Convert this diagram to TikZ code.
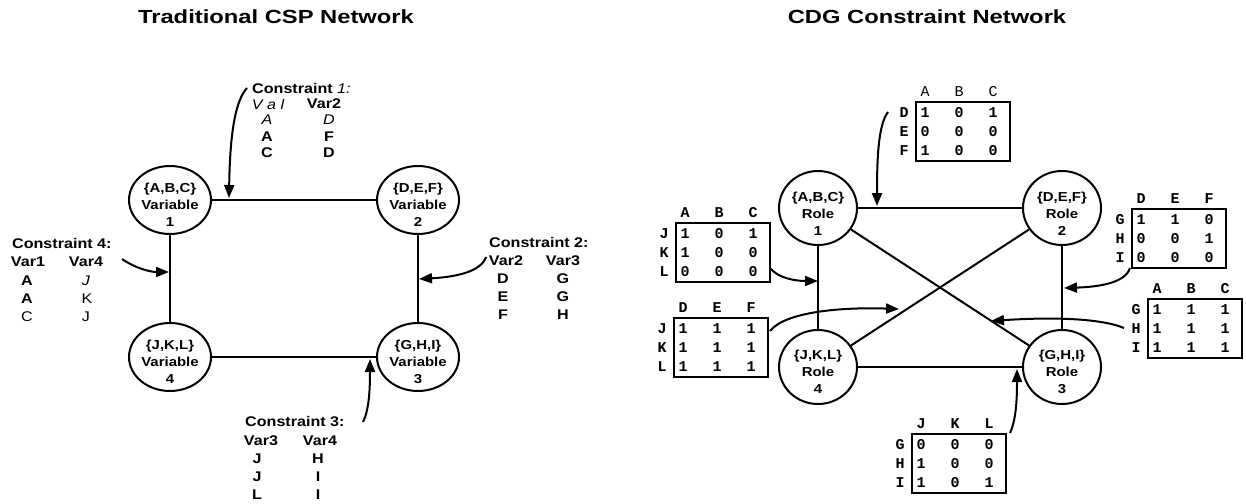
\documentclass[tikz,border=0pt]{standalone}
\usepackage{fontspec}
\setmainfont{Liberation Sans}
\setmonofont{Liberation Mono}
\usepackage{graphicx}
\usetikzlibrary{shapes.geometric,arrows.meta}
\newcommand{\sx}[1]{\scalebox{1.15}[1]{#1}}
\newcommand{\cdgtab}[7]{%
  \node[tbox] (#1) at ({#2+47},{#3+29.5}) {};
  \foreach \hh [count=\i] in {#5} {\node[#4] (#1h\i) at ({#2+9+34*(\i-1)},{#3-10}) {\hh};}
  \foreach \rr [count=\j] in {#6} {\node[tnum] (#1r\j) at ({#2-12},{#3+11+19*(\j-1)}) {\rr};}
  \foreach \p/\q/\w [count=\j] in {#7} {
    \node[tnum] (#1v\j-1) at ({#2+9},{#3+11+19*(\j-1)}) {\p};
    \node[tnum] (#1v\j-2) at ({#2+43},{#3+11+19*(\j-1)}) {\q};
    \node[tnum] (#1v\j-3) at ({#2+77},{#3+11+19*(\j-1)}) {\w};
  }%
}
\begin{document}
\begin{tikzpicture}[x=1pt,y=-1pt,
  ln/.style={line width=2pt},
  arr/.style={line width=2pt,-{Triangle[length=13pt,width=10pt]}},
  vcirc/.style={ellipse,draw,line width=2pt,minimum width=82pt,minimum height=68pt,inner sep=0pt},
  rcirc/.style={ellipse,draw,line width=2pt,minimum width=78pt,minimum height=74pt,inner sep=0pt},
  ctext/.style={inner sep=0pt,align=center,font=\fontsize{13}{17}\selectfont\bfseries},
  lab/.style={inner sep=0pt,font=\fontsize{14}{16}\selectfont\bfseries},
  labm/.style={inner sep=0pt,font=\fontsize{14}{16}\selectfont},
  labi/.style={inner sep=0pt,font=\fontsize{14}{16}\selectfont\itshape},
  ttl/.style={inner sep=0pt,font=\fontsize{19}{22}\selectfont\bfseries},
  tbox/.style={draw,line width=1.6pt,minimum width=94pt,minimum height=59pt,inner sep=0pt},
  tnum/.style={inner sep=0pt,font=\fontsize{15}{17}\selectfont\ttfamily\bfseries},
  tnumr/.style={inner sep=0pt,font=\fontsize{15}{17}\selectfont\ttfamily},
]
\useasboundingbox (0,0) rectangle (1246,503);

% titles
\node[ttl] (t1) at (276,17) {\scalebox{1.25}[1]{Traditional CSP Network}};
\node[ttl] (t2) at (927,17) {\scalebox{1.25}[1]{CDG Constraint Network}};

% ---------- left: traditional CSP ----------
\node[vcirc] (v1) at (170,200) {};
\node[vcirc] (v2) at (418,200) {};
\node[vcirc] (v3) at (418,357) {};
\node[vcirc] (v4) at (170,357) {};
\node[ctext] (v1t) at (170,205) {\sx{\{A,B,C\}}\\\sx{Variable}\\\sx{1}};
\node[ctext] (v2t) at (418,205) {\sx{\{D,E,F\}}\\\sx{Variable}\\\sx{2}};
\node[ctext] (v3t) at (418,362) {\sx{\{G,H,I\}}\\\sx{Variable}\\\sx{3}};
\node[ctext] (v4t) at (170,362) {\sx{\{J,K,L\}}\\\sx{Variable}\\\sx{4}};
\draw[ln] (v1) -- (v2);
\draw[ln] (v2) -- (v3);
\draw[ln] (v1) -- (v4);
\draw[ln] (v4) -- (v3);

% constraint 1
\node[lab,anchor=west] (k1) at (252,88) {\sx{Constraint \textit{\mdseries 1:}}};
\node[labi] (k1h1) at (268,104) {\sx{V a l}};
\node[lab] (k1h2) at (324,104) {\sx{Var2}};
\node[labi] (k1a1) at (267,120) {\sx{A}};
\node[labi] (k1b1) at (329,120) {\sx{D}};
\node[lab] (k1a2) at (267,137) {\sx{A}};
\node[lab] (k1b2) at (329,137) {\sx{F}};
\node[lab] (k1a3) at (267,153) {\sx{C}};
\node[lab] (k1b3) at (329,153) {\sx{D}};
\coordinate (c1s) at (247,88);
\coordinate (c1e) at (229,198);
\draw[arr] (c1s) .. controls (236,100) and (230,130) .. (c1e);

% constraint 2
\node[lab,anchor=west] (k2) at (489,242) {\sx{Constraint 2:}};
\node[lab] (k2h1) at (506,261) {\sx{Var2}};
\node[lab] (k2h2) at (563,261) {\sx{Var3}};
\node[lab] (k2a1) at (503,279) {\sx{D}};
\node[lab] (k2b1) at (563,279) {\sx{G}};
\node[lab] (k2a2) at (503,297) {\sx{E}};
\node[lab] (k2b2) at (563,297) {\sx{G}};
\node[lab] (k2a3) at (503,315) {\sx{F}};
\node[lab] (k2b3) at (563,315) {\sx{H}};
\coordinate (c2s) at (486,257);
\coordinate (c2e) at (419,279);
\draw[arr] (c2s) .. controls (481,272) and (455,277) .. (c2e);

% constraint 4
\node[lab,anchor=west] (k4) at (12,243) {\sx{Constraint 4:}};
\node[lab] (k4h1) at (28,262) {\sx{Var1}};
\node[lab] (k4h2) at (86,262) {\sx{Var4}};
\node[lab] (k4a1) at (27,281) {\sx{A}};
\node[labi] (k4b1) at (86,281) {\sx{J}};
\node[lab] (k4a2) at (27,299) {\sx{A}};
\node[labm] (k4b2) at (87,299) {\sx{K}};
\node[labm] (k4a3) at (27,317) {\sx{C}};
\node[labm] (k4b3) at (86,317) {\sx{J}};
\coordinate (c4s) at (122,259);
\coordinate (c4e) at (169,272);
\draw[arr] (c4s) .. controls (135,268) and (150,272) .. (c4e);

% constraint 3
\node[lab,anchor=west] (k3) at (245,421) {\sx{Constraint 3:}};
\node[lab] (k3h1) at (261,441) {\sx{Var3}};
\node[lab] (k3h2) at (320,441) {\sx{Var4}};
\node[lab] (k3a1) at (257,459) {\sx{J}};
\node[lab] (k3b1) at (318,459) {\sx{H}};
\node[lab] (k3a2) at (257,477) {\sx{J}};
\node[lab] (k3b2) at (318,477) {\sx{I}};
\node[lab] (k3a3) at (257,495) {\sx{L}};
\node[lab] (k3b3) at (318,495) {\sx{I}};
\coordinate (c3s) at (363,422);
\coordinate (c3e) at (370,359);
\draw[arr] (c3s) .. controls (369,410) and (370,390) .. (c3e);

% ---------- right: CDG network ----------
\node[rcirc] (r1) at (818,208) {};
\node[rcirc] (r2) at (1062,208) {};
\node[rcirc] (r3) at (1062,367) {};
\node[rcirc] (r4) at (818,367) {};
\node[ctext] (r1t) at (818,214) {\sx{\{A,B,C\}}\\\sx{Role}\\\sx{1}};
\node[ctext] (r2t) at (1062,214) {\sx{\{D,E,F\}}\\\sx{Role}\\\sx{2}};
\node[ctext] (r3t) at (1062,372) {\sx{\{G,H,I\}}\\\sx{Role}\\\sx{3}};
\node[ctext] (r4t) at (818,372) {\sx{\{J,K,L\}}\\\sx{Role}\\\sx{4}};
\draw[ln] (r1) -- (r2);
\draw[ln] (r2) -- (r3);
\draw[ln] (r1) -- (r4);
\draw[ln] (r4) -- (r3);
\draw[ln] (r1) -- (r3);
\draw[ln] (r4) -- (r2);

\cdgtab{tt}{916}{102}{tnumr}{A,B,C}{D,E,F}{1/0/1,0/0/0,1/0/0}
\cdgtab{tlu}{676}{223}{tnum}{A,B,C}{J,K,L}{1/0/1,1/0/0,0/0/0}
\cdgtab{tll}{674}{318}{tnum}{D,E,F}{J,K,L}{1/1/1,1/1/1,1/1/1}
\cdgtab{tru}{1132}{209}{tnum}{D,E,F}{G,H,I}{1/1/0,0/0/1,0/0/0}
\cdgtab{trl}{1148}{299}{tnum}{A,B,C}{G,H,I}{1/1/1,1/1/1,1/1/1}
\cdgtab{tb}{912}{434}{tnum}{J,K,L}{G,H,I}{0/0/0,1/0/0,1/0/1}

\coordinate (a1s) at (888,112);
\coordinate (a1e) at (877,206);
\draw[arr] (a1s) .. controls (878,125) and (877,160) .. (a1e);
\coordinate (a2s) at (770,268);
\coordinate (a2e) at (818,281);
\draw[arr] (a2s) .. controls (778,278) and (795,281) .. (a2e);
\coordinate (a3s) at (770,331);
\coordinate (a3e) at (899,309);
\draw[arr] (a3s) .. controls (785,312) and (840,307) .. (a3e);
\coordinate (a4s) at (1130,268);
\coordinate (a4e) at (1064,288);
\draw[arr] (a4s) .. controls (1125,284) and (1095,287) .. (a4e);
\coordinate (a5s) at (1124,328);
\coordinate (a5e) at (991,321);
\draw[arr] (a5s) .. controls (1100,318) and (1050,317) .. (a5e);
\coordinate (a6s) at (1010,433);
\coordinate (a6e) at (1017,369);
\draw[arr] (a6s) .. controls (1016,420) and (1017,400) .. (a6e);
\end{tikzpicture}
\end{document}
